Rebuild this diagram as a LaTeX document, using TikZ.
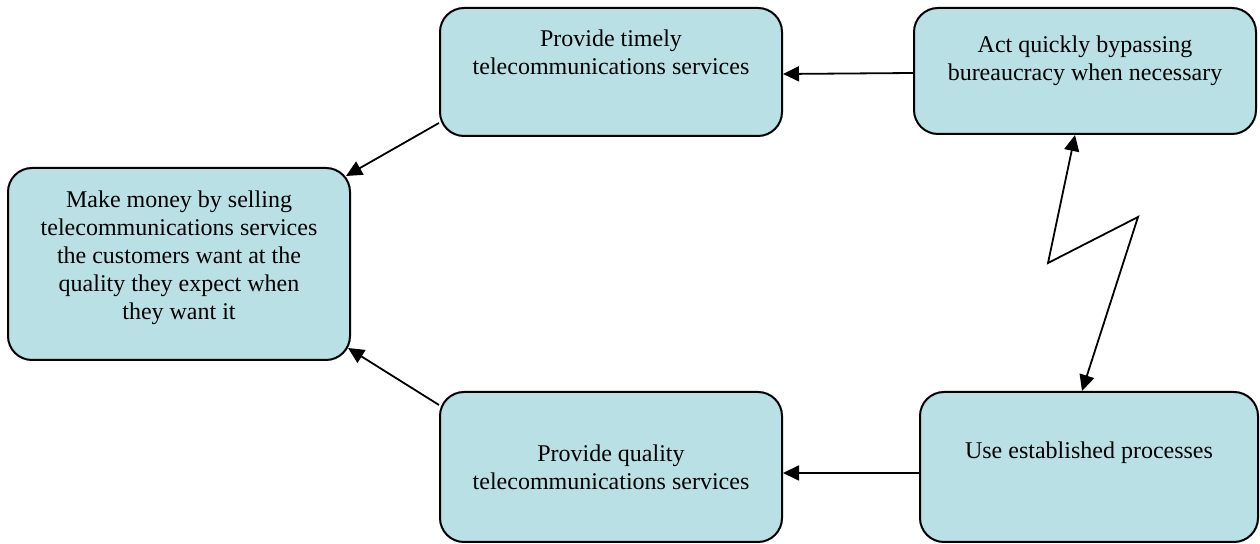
\documentclass[tikz,border=0pt]{standalone}
\usepackage{fontspec}
\setmainfont{Liberation Serif}
\usetikzlibrary{arrows.meta,positioning,calc}

\definecolor{boxfill}{RGB}{185,224,228}

\tikzset{
  goal box/.style={draw, line width=1pt, rounded corners=12pt, fill=boxfill,
    inner sep=0pt},
  box text/.style={align=center, inner sep=0pt,
    font=\fontsize{12pt}{14pt}\selectfont},
}

\begin{document}
\begin{tikzpicture}[x=0.5pt, y=-0.5pt, >={Triangle[length=8pt,width=7.5pt]}, line width=0.9pt]

\useasboundingbox (0,0) rectangle (1260,544);

% boxes
\node [goal box, minimum width=171pt, minimum height=96pt] (goal) at (179,264) {};
\node [goal box, minimum width=171pt, minimum height=64pt] (timely) at (611,72) {};
\node [goal box, minimum width=171pt, minimum height=63pt] (quick) at (1085,71) {};
\node [goal box, minimum width=171pt, minimum height=75pt] (quality) at (611,467) {};
\node [goal box, minimum width=169pt, minimum height=75pt] (process) at (1089,467) {};

% texts
\node [box text] (goal-t) at ([yshift=3pt]goal.center)
  {Make money by selling\\telecommunications services\\the customers want at the\\quality they expect when\\they want it};
\node [box text] (timely-t) at ([yshift=10pt]timely.center)
  {Provide timely\\telecommunications services};
\node [box text] (quick-t) at ([yshift=5pt]quick.center)
  {Act quickly bypassing\\bureaucracy when necessary};
\node [box text] (quality-t) at (quality.center)
  {Provide quality\\telecommunications services};
\node [box text] (process-t) at ([yshift=7pt]process.center)
  {Use established processes};

% arrows
\draw [->] ([yshift=-1pt]quick.west) -- ([yshift=-1pt]timely.east);
\draw [->] ([yshift=-3pt]process.west) -- ([yshift=-3pt]quality.east);
\draw [->] ([yshift=7pt]timely.south west) -- ([xshift=-2.5pt,yshift=-4.5pt]goal.north east);
\draw [->] ([yshift=-7pt]quality.north west) -- ([xshift=-1.5pt,yshift=6.5pt]goal.south east);

% conflict
\coordinate (zig-a) at (1138,217);
\coordinate (zig-b) at (1048,263);
\draw [<->] ([xshift=-3.5pt]process.north) -- (zig-a) -- (zig-b) -- ([xshift=-5pt]quick.south);

\end{tikzpicture}
\end{document}
